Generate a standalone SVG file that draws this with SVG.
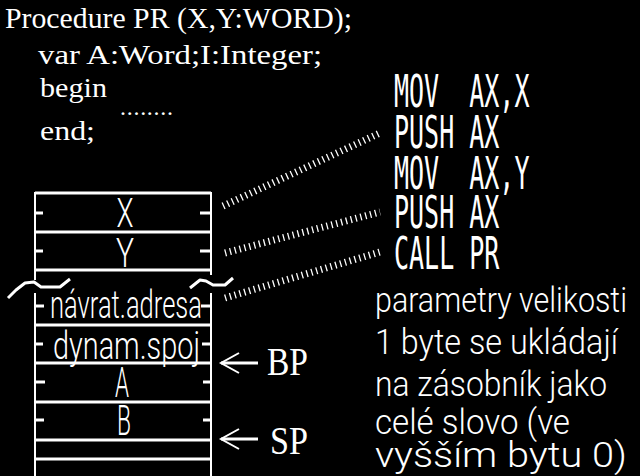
<svg xmlns="http://www.w3.org/2000/svg" width="640" height="476" viewBox="0 0 640 476">
<defs>
<style>
.code{font-family:"Liberation Serif",serif;fill:#fff}
.asm{font-family:"DejaVu Sans Mono",monospace;font-size:25px;fill:#fff}
.thin{font-family:Roboto,"Liberation Sans",sans-serif;font-weight:300;fill:#fff}
.reg{font-family:"Liberation Serif",serif;font-size:40px;fill:#fff}
.hl{stroke:#fff;stroke-width:3;fill:none}
.vl{stroke:#fff;stroke-width:2;fill:none}
.tk{stroke:#fff;stroke-width:3;fill:none}
.dot{stroke:#fff;stroke-width:7;stroke-dasharray:1.3 3.7;fill:none}
.arr{stroke:#fff;stroke-width:3;fill:none;marker-end:url(#chev)}
.wave{stroke:#fff;stroke-width:3;fill:none;stroke-linejoin:round}
</style>
<marker id="chev" viewBox="-22 -12 24 24" refX="0" refY="0" markerWidth="24" markerHeight="24" markerUnits="userSpaceOnUse" orient="auto" overflow="visible">
<path d="M-18,-10 L0,0 L-18,10" stroke="#fff" stroke-width="2" fill="none"/>
</marker>
</defs>
<rect width="640" height="476" fill="#000"/>

<g id="code">
<text class="code" x="5" y="28" font-size="30" textLength="347" lengthAdjust="spacingAndGlyphs">Procedure PR (X,Y:WORD);</text>
<text class="code" x="38" y="64" font-size="27" textLength="284" lengthAdjust="spacingAndGlyphs">var A:Word;I:Integer;</text>
<text class="code" x="40" y="97" font-size="27" textLength="67" lengthAdjust="spacingAndGlyphs">begin</text>
<text class="code" x="120" y="115" font-size="24" textLength="53" lengthAdjust="spacing">........</text>
<text class="code" x="40" y="140" font-size="27" textLength="55" lengthAdjust="spacingAndGlyphs">end;</text>
</g>

<g id="stack">
<line class="vl" x1="35" y1="192" x2="35" y2="280"/>
<line class="vl" x1="35" y1="293" x2="35" y2="476"/>
<line class="vl" x1="211" y1="192" x2="211" y2="275"/>
<line class="vl" x1="211" y1="293" x2="211" y2="476"/>
<line class="hl" x1="35" y1="193" x2="211" y2="193"/>
<line class="hl" x1="35" y1="232" x2="211" y2="232"/>
<line class="hl" x1="35" y1="270" x2="211" y2="270"/>
<line class="hl" x1="35" y1="325" x2="211" y2="325"/>
<line class="hl" x1="35" y1="363" x2="211" y2="363"/>
<line class="hl" x1="35" y1="402" x2="211" y2="402"/>
<line class="hl" x1="35" y1="440" x2="211" y2="440"/>
<line class="hl" x1="35" y1="459" x2="211" y2="459"/>
<path class="tk" d="M35,213H43M200,213H211M35,251H43M200,251H211M35,306H44M201,306H211M35,344H43M202,344H211M35,382H45M203,382H211M35,420H44M203,420H211"/>
<polyline class="wave" points="8,298 16,290 25,283 34,282 41,287 60,287 70,279"/>
<polyline class="wave" points="190,288 200,280 206,281 213,285 225,285 233,278"/>
</g>

<g id="cell-x"><text class="thin" x="125" y="227" font-size="40" text-anchor="middle" textLength="17" lengthAdjust="spacingAndGlyphs">X</text></g>
<g id="cell-y"><text class="thin" x="125" y="267" font-size="40" text-anchor="middle" textLength="18" lengthAdjust="spacingAndGlyphs">Y</text></g>
<g id="cell-ret"><text class="thin" x="50" y="318" font-size="38" textLength="152" lengthAdjust="spacingAndGlyphs">návrat.adresa</text></g>
<g id="cell-bp"><text class="thin" x="53" y="359" font-size="38" textLength="147" lengthAdjust="spacingAndGlyphs">dynam.spoj</text></g>
<g id="cell-a"><text class="thin" x="122" y="397" font-size="42" text-anchor="middle" textLength="14" lengthAdjust="spacingAndGlyphs">A</text></g>
<g id="cell-b"><text class="thin" x="124" y="435" font-size="42" text-anchor="middle" textLength="14" lengthAdjust="spacingAndGlyphs">B</text></g>

<g id="asm">
<text class="asm" xml:space="preserve" transform="translate(394,107) scale(1,1.8)">MOV  AX,X</text>
<text class="asm" xml:space="preserve" transform="translate(394,148) scale(1,1.8)">PUSH AX</text>
<text class="asm" xml:space="preserve" transform="translate(394,189) scale(1,1.8)">MOV  AX,Y</text>
<text class="asm" xml:space="preserve" transform="translate(394,228) scale(1,1.8)">PUSH AX</text>
<text class="asm" xml:space="preserve" transform="translate(394,269) scale(1,1.8)">CALL PR</text>
</g>

<g id="label-bp"><text class="reg" x="267" y="375" textLength="41" lengthAdjust="spacingAndGlyphs">BP</text></g>
<g id="label-sp"><text class="reg" x="270" y="454" textLength="38" lengthAdjust="spacingAndGlyphs">SP</text></g>

<g id="note">
<text class="thin" x="375" y="312" font-size="35" textLength="252" lengthAdjust="spacingAndGlyphs">parametry velikosti</text>
<text class="thin" x="375" y="354" font-size="35" textLength="243" lengthAdjust="spacingAndGlyphs">1 byte se ukládají</text>
<text class="thin" x="375" y="396" font-size="35" textLength="232" lengthAdjust="spacingAndGlyphs">na zásobník jako</text>
<text class="thin" x="375" y="434" font-size="35" textLength="195" lengthAdjust="spacingAndGlyphs">celé slovo (ve</text>
<text class="thin" x="375" y="467" font-size="35" textLength="252" lengthAdjust="spacingAndGlyphs">vyšším bytu 0)</text>
</g>

<g id="connectors">
<line class="dot" x1="223" y1="206" x2="380" y2="133"/>
<line class="dot" x1="225" y1="253" x2="380" y2="212"/>
<line class="dot" x1="225" y1="298" x2="380" y2="252"/>
<line class="arr" x1="258" y1="363" x2="221" y2="363"/>
<line class="arr" x1="258" y1="439" x2="221" y2="439"/>
</g>
</svg>
